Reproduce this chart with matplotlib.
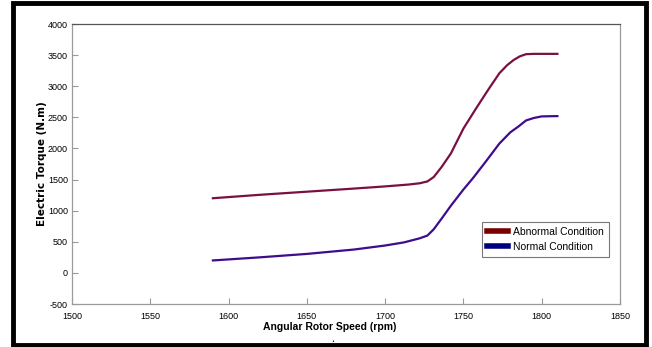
import matplotlib
matplotlib.use("Agg")
import matplotlib.pyplot as plt
from matplotlib.lines import Line2D
from matplotlib.patches import Rectangle

# data
speed_abn = [1590, 1620, 1650, 1680, 1700, 1715, 1722, 1727, 1731, 1736, 1742, 1750, 1758, 1766,
             1773, 1778, 1782, 1786, 1790, 1795, 1810]
torque_abn = [1200, 1255, 1305, 1355, 1390, 1420, 1440, 1470, 1540, 1700, 1920, 2320, 2640, 2950,
              3210, 3340, 3420, 3480, 3515, 3520, 3520]

speed_norm = [1590, 1620, 1650, 1680, 1700, 1712, 1722, 1727, 1731, 1736, 1742, 1750, 1756, 1764,
              1773, 1780, 1785, 1790, 1795, 1800, 1810]
torque_norm = [200, 250, 305, 375, 440, 490, 555, 600, 700, 870, 1080, 1340, 1520, 1780,
               2080, 2260, 2350, 2450, 2490, 2515, 2520]

xticks = [1500, 1550, 1600, 1650, 1700, 1750, 1800, 1850]
yticks = [-500, 0, 500, 1000, 1500, 2000, 2500, 3000, 3500, 4000]

tick_font = "Liberation Sans"

fig = plt.figure(figsize=(6.52, 3.47), dpi=100)
ax = fig.add_axes([72/652, 1 - 304/347, 548/652, 280/347])

ax.plot(speed_abn, torque_abn, color="#7a1042", lw=1.6)
ax.plot(speed_norm, torque_norm, color="#3f0c8c", lw=1.6)

ax.set_xlim(1500, 1850)
ax.set_ylim(-500, 4000)
ax.set_xticks(xticks)
ax.set_yticks(yticks)
ax.set_xticklabels([str(v) for v in xticks], fontsize=6.5, family=tick_font)
ax.set_yticklabels([str(v) for v in yticks], fontsize=6.5, family=tick_font)
ax.tick_params(direction="in", length=4, color="#999999", width=0.8, pad=3)
ax.tick_params(axis="x", pad=6)

for side in ["left", "bottom", "right"]:
    ax.spines[side].set_color("#9a9a9a")
ax.spines["top"].set_color("#555555")
for s in ax.spines.values():
    s.set_linewidth(0.9)

ax.set_xlabel("Angular Rotor Speed (rpm)", fontsize=7.5, family=tick_font, fontweight="bold")
ax.xaxis.set_label_coords(0.47, -0.064)
ax.set_ylabel("Electric Torque (N.m)", fontsize=7.5, fontweight="bold")
ax.yaxis.set_label_coords(-0.046, 0.5)

handles = [Line2D([], [], color="#7a0000", lw=4), Line2D([], [], color="#00007f", lw=4)]
leg = ax.legend(handles, ["Abnormal Condition", "Normal Condition"],
                loc="lower right", bbox_to_anchor=(0.99, 0.15), fancybox=False,
                framealpha=1, edgecolor="#777777", handlelength=2.0, handletextpad=0.5,
                borderpad=0.5, labelspacing=0.45, prop={"family": tick_font, "size": 7.5})
leg.get_frame().set_linewidth(0.8)

# thick black frame round the figure
fig.patches.append(Rectangle((13/652, 2/347), 633/652, 342/347, transform=fig.transFigure,
                             fill=False, edgecolor="black", lw=3.5))
fig.text(333/652, 1 - 341/347, "•", fontsize=3.5, ha="center", va="center")

fig.savefig("out.png", dpi=100)
